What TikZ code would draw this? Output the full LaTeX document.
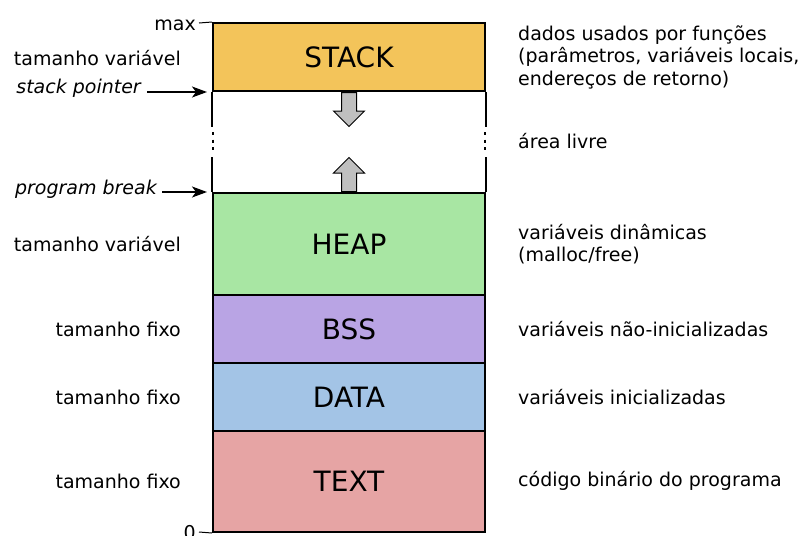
\documentclass[tikz,border=0pt]{standalone}
\usepackage{fontspec}
\setmainfont{DejaVu Sans}
\usetikzlibrary{arrows.meta,shapes.arrows}

\definecolor{stackcol}{RGB}{243,196,90}
\definecolor{heapcol}{RGB}{168,230,163}
\definecolor{bsscol}{RGB}{185,164,228}
\definecolor{datacol}{RGB}{163,196,230}
\definecolor{textcol}{RGB}{230,164,164}

\tikzset{
  seg/.style={draw, line width=2pt, minimum width=272pt, inner sep=0pt,
    font=\fontsize{28}{30}\selectfont},
  lbl/.style={anchor=east, inner sep=0pt, font=\fontsize{19}{22.5}\selectfont},
  desc/.style={anchor=west, inner sep=0pt, align=left, font=\fontsize{19}{22.5}\selectfont},
  ptr/.style={-{Stealth[length=15pt,width=11pt,inset=4pt]}, line width=1.4pt},
  growarrow/.style={single arrow, draw, fill=black!25, line width=1pt, inner sep=7pt,
    single arrow head extend=8pt, minimum height=34pt},
}

\begin{document}
\begin{tikzpicture}[x=1pt, y=-1pt]
  \useasboundingbox (0,0) rectangle (804,536);

  % segments
  \node[seg, fill=stackcol, minimum height=68pt] (stack) at (349,57) {STACK};
  \node[seg, fill=heapcol, minimum height=102pt] (heap) at (349,244) {HEAP};
  \node[seg, fill=bsscol, minimum height=68pt] (bss) at (349,329) {BSS};
  \node[seg, fill=datacol, minimum height=68pt] (data) at (349,397) {DATA};
  \node[seg, fill=textcol, minimum height=101pt] (text) at (349,481.5) {TEXT};

  % free area
  \draw[line width=2pt] (stack.south west) -- ++(0,35);
  \draw[line width=2pt] (stack.south east) -- ++(0,35);
  \draw[line width=2.5pt, dash pattern=on 3pt off 4.5pt] (213,132) -- (213,154);
  \draw[line width=2.5pt, dash pattern=on 3pt off 4.5pt] (485,132) -- (485,154);
  \draw[line width=2pt] (heap.north west) -- ++(0,-35);
  \draw[line width=2pt] (heap.north east) -- ++(0,-35);
  \node[growarrow, rotate=-90, anchor=tail] (down) at (stack.south) {};
  \node[growarrow, rotate=90, anchor=tail] (up) at (heap.north) {};

  % limits
  \coordinate (max) at (199,23);
  \coordinate (zero) at (199,532);
  \draw[line width=1pt] (max) -- (stack.north west);
  \draw[line width=1pt] (zero) -- (text.south west);
  \node[lbl, anchor=south east] (maxl) at (196,31) {max};
  \node[lbl, anchor=south east] (zerol) at (196,540) {0};

  % left labels
  \node[lbl] (sizestack) at (181,58) {tamanho variável};
  \node[lbl] (sp) at (141,88) {\itshape stack pointer};
  \node[lbl] (pb) at (157,189) {\itshape program break};
  \node[lbl] (sizeheap) at (181,244) {tamanho variável};
  \node[lbl] (sizebss) at (181,329) {tamanho fixo};
  \node[lbl] (sizedata) at (181,397) {tamanho fixo};
  \node[lbl] (sizetext) at (181,481) {tamanho fixo};
  \draw[ptr] ([xshift=6pt]sp.east |- stack.south west) -- ([xshift=-5pt]stack.south west);
  \draw[ptr] ([xshift=5pt]pb.east |- heap.north west) -- ([xshift=-5pt]heap.north west);

  % right labels
  \node[desc] (dstack) at (518,57) {dados usados por funções\\(parâmetros, variáveis locais,\\endereços de retorno)};
  \node[desc] (dfree) at (518,141) {área livre};
  \node[desc] (dheap) at (518,244) {variáveis dinâmicas\\(malloc/free)};
  \node[desc] (dbss) at (518,329) {variáveis não-inicializadas};
  \node[desc] (ddata) at (518,397) {variáveis inicializadas};
  \node[desc] (dtext) at (518,481) {código binário do programa};
\end{tikzpicture}
\end{document}
